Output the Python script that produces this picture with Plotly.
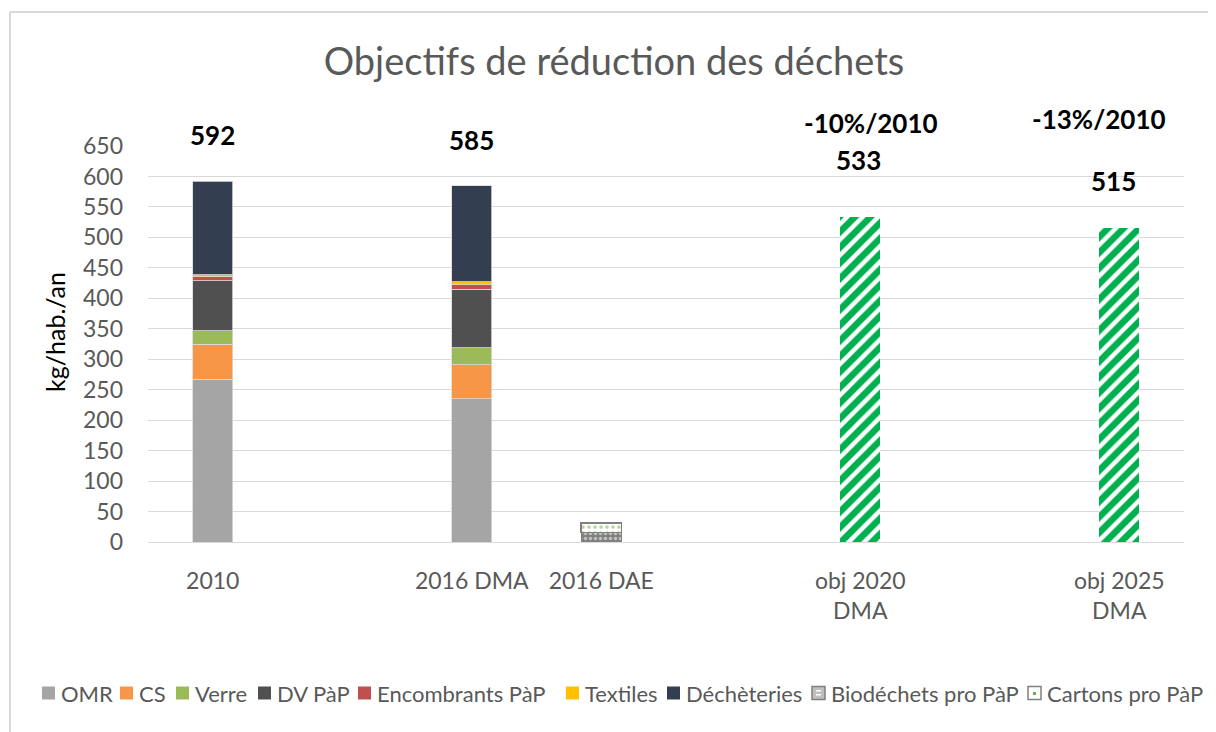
import plotly.graph_objects as go

# ---- data ----
positions = [0, 2, 3, 5, 7]
tick_labels = ["2010", "2016 DMA", "2016 DAE", "obj 2020<br>DMA", "obj 2025<br>DMA"]

x_dma = [0, 2]
omr = [267, 235]
cs = [58, 56]
verre = [22, 28]
dv_pap = [82, 96]
encombrants = [6, 7]
textiles = [4, 5]
decheteries = [153, 158]

x_dae = [3]
biodechets = [16]
cartons = [15]

x_obj = [5, 7]
objectifs = [533, 515]

totals = [592, 585]
obj_labels = ["533", "515"]
obj_pct = ["-10%/2010", "-13%/2010"]

# ---- styling ----
FONT = "Lato"
GREY_TXT = "#595959"
BW = 0.31

# plot area geometry (screen px) used to convert layout positions to paper coords
PL, PT, PW, PH = 148, 146, 1036, 396


def px(x):
    return (x - PL) / PW


def py(y):
    return (PT + PH - y) / PH


fig = go.Figure()

solid = [
    ("OMR", omr, "#A5A5A5"),
    ("CS", cs, "#F79646"),
    ("Verre", verre, "#9BBB59"),
    ("DV PàP", dv_pap, "#505050"),
    ("Encombrants PàP", encombrants, "#C0504D"),
    ("Textiles", textiles, "#FFC000"),
    ("Déchèteries", decheteries, "#333F50"),
]
for name, vals, col in solid:
    fig.add_trace(go.Bar(x=x_dma, y=vals, name=name, width=BW, showlegend=False,
                         marker=dict(color=col, line=dict(color="#D9D9D9", width=0.8))))

fig.add_trace(go.Bar(x=x_dae, y=biodechets, name="Biodéchets pro PàP", width=BW, showlegend=False,
                     marker=dict(color="#808080",
                                 pattern=dict(shape=".", fgcolor="white", bgcolor="#808080",
                                              size=5, solidity=0.4),
                                 line=dict(color="#808080", width=1))))
fig.add_trace(go.Bar(x=x_dae, y=cartons, name="Cartons pro PàP", width=BW, showlegend=False,
                     marker=dict(color="white",
                                 pattern=dict(shape=".", fgcolor="#70AD47", bgcolor="white",
                                              size=6, solidity=0.3),
                                 line=dict(color="#808080", width=1.5))))

fig.add_trace(go.Bar(x=x_obj, y=objectifs, name="Objectifs", width=BW, showlegend=False,
                     marker=dict(color="#00B050",
                                 pattern=dict(shape="/", fgcolor="#00B050", bgcolor="white",
                                              size=11, solidity=0.6, fgopacity=1),
                                 line=dict(width=0))))

BOLD = dict(family=FONT, size=26, color="black", weight="bold")
annotations = []
for xv, tv in zip(x_dma, totals):
    annotations.append(dict(x=xv, y=tv, xref="x", yref="y", text=str(tv), showarrow=False,
                            yshift=46, font=BOLD))
shifts_val = [57, 47]
shifts_pct = [94, 109]
xshift_val = [-2, -6]
xshift_pct = [11, -20]
for i, xv in enumerate(x_obj):
    annotations.append(dict(x=xv, y=objectifs[i], xref="x", yref="y", text=obj_labels[i],
                            showarrow=False, yshift=shifts_val[i], xshift=xshift_val[i], font=BOLD))
    annotations.append(dict(x=xv, y=objectifs[i], xref="x", yref="y", text=obj_pct[i],
                            showarrow=False, yshift=shifts_pct[i], xshift=xshift_pct[i], font=BOLD))
annotations.append(dict(x=px(38), y=py(332), xref="paper", yref="paper", text="kg/hab./an",
                        textangle=-90, showarrow=False,
                        font=dict(family=FONT, size=25, color="black")))

# ---- custom legend (Excel-like compact layout) ----
legend_names = [s[0] for s in solid] + ["Biodéchets pro PàP", "Cartons pro PàP"]
legend_colors = [s[2] for s in solid] + ["#BFBFBF", "#FFFFFF"]
legend_sym_x = [42, 120, 176, 258, 358, 566, 667, 812, 1028]
LEG_Y = 693
shapes = []
for name, col, sx in zip(legend_names, legend_colors, legend_sym_x):
    patterned = name.endswith("pro PàP")
    shapes.append(dict(type="rect", xref="paper", yref="paper",
                       x0=px(sx), x1=px(sx + 13), y0=py(LEG_Y + 6.5), y1=py(LEG_Y - 6.5),
                       fillcolor=col,
                       line=dict(color="#808080" if patterned else col, width=1.5 if patterned else 0)))
    if name.startswith("Cartons"):
        shapes.append(dict(type="rect", xref="paper", yref="paper",
                           x0=px(sx + 5), x1=px(sx + 8), y0=py(LEG_Y + 2), y1=py(LEG_Y - 1),
                           fillcolor="#70AD47", line=dict(width=0)))
    if name.startswith("Biodéchets"):
        for dy in (-3, 1):
            shapes.append(dict(type="rect", xref="paper", yref="paper",
                               x0=px(sx + 4), x1=px(sx + 9), y0=py(LEG_Y + dy + 1.5),
                               y1=py(LEG_Y + dy), fillcolor="white", line=dict(width=0)))
    annotations.append(dict(x=px(sx + 17), y=py(LEG_Y), xref="paper", yref="paper",
                            text=name, showarrow=False, xanchor="left", yanchor="middle",
                            font=dict(family=FONT, size=22, color=GREY_TXT)))

# chart border (top and left edges visible)
shapes += [
    dict(type="line", xref="paper", yref="paper", x0=px(10), x1=px(10),
         y0=py(12), y1=py(760), line=dict(color="#D9D9D9", width=2)),
    dict(type="line", xref="paper", yref="paper", x0=px(10), x1=px(1240),
         y0=py(12), y1=py(12), line=dict(color="#D9D9D9", width=2)),
]

# page body has an 8px margin: size/margins below place the plot area at PL, PT on screen
fig.update_layout(
    width=1208, height=724,
    margin=dict(l=PL - 8, r=1208 - (PL - 8) - PW, t=PT - 8, b=724 - (PT - 8) - PH),
    barmode="stack",
    showlegend=False,
    paper_bgcolor="white", plot_bgcolor="white",
    title=dict(text="Objectifs de réduction des déchets", x=606 / 1208, xanchor="center",
               y=1 - 54 / 724, yanchor="middle",
               font=dict(family=FONT, size=38, color=GREY_TXT)),
    xaxis=dict(range=[-0.5, 7.5], tickvals=positions, ticktext=tick_labels,
               showgrid=False, zeroline=False, showline=True, linecolor="#D9D9D9",
               ticks="", ticklabelstandoff=18,
               tickfont=dict(family=FONT, size=23, color=GREY_TXT)),
    yaxis=dict(range=[0, 650], dtick=50, showgrid=True, gridcolor="#D9D9D9",
               zeroline=False, showline=False, ticks="", ticklabelstandoff=24,
               tickfont=dict(family=FONT, size=23, color=GREY_TXT)),
    annotations=annotations,
    shapes=shapes,
)

fig.write_html("out.html")
